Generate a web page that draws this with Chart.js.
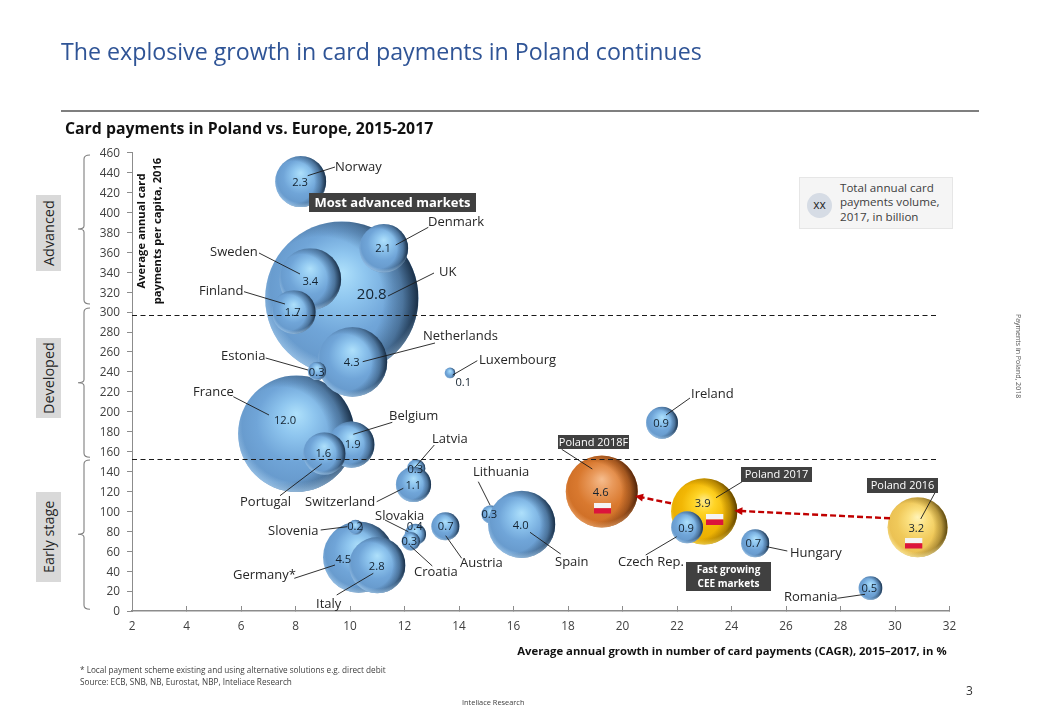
<!DOCTYPE html>
<html><head><meta charset="utf-8">
<script src="https://cdn.jsdelivr.net/npm/chart.js@4"></script>
<style>
html,body{margin:0;padding:0;background:#fff;width:1040px;height:720px;overflow:hidden;font-family:"Open Sans",sans-serif;color:#262626}
#wrap{position:relative;width:1040px;height:720px}
canvas{position:absolute;left:0;top:0}
.t{position:absolute;white-space:nowrap}
#title{left:61px;top:35px;font-size:23.2px;color:#2f5496;line-height:32px}
#rule{position:absolute;left:61px;top:110px;width:918px;height:2px;background:#7f7f7f}
#sub{left:65px;top:118px;font-size:15.8px;font-weight:700;color:#111;line-height:20px}
.side{position:absolute;background:#d9d9d9;color:#262626;font-size:14.4px;writing-mode:vertical-rl;transform:rotate(180deg);text-align:center;left:36px;width:25px;line-height:25px}
#foot{left:80px;top:664px;font-size:8.2px;line-height:11.5px;color:#404040}
#page{left:966px;top:682px;font-size:12px;color:#333}
#brand{left:462px;top:697px;font-size:7.4px;color:#404040}
#side2{left:1014px;top:314px;font-size:7px;color:#555;writing-mode:vertical-rl}
#legend{position:absolute;left:799px;top:177px;width:152px;height:50px;background:#f5f5f5;border:1px solid #e6e6e6}
#legdot{position:absolute;left:7px;top:15px;width:25px;height:25px;border-radius:50%;background:#d6dce5;text-align:center;line-height:24px;font-size:12px;color:#262626}
#legtxt{position:absolute;left:40px;top:3px;font-size:11.6px;line-height:14.4px;color:#404040;white-space:nowrap}
</style></head>
<body><div id="wrap">
<canvas id="c" width="1040" height="720"></canvas>
<div class="t" id="title">The explosive growth in card payments in Poland continues</div>
<div id="rule"></div>
<div class="t" id="sub">Card payments in Poland vs. Europe, 2015-2017</div>
<div class="side" style="top:195px;height:76px">Advanced</div>
<div class="side" style="top:338px;height:80px">Developed</div>
<div class="side" style="top:492px;height:90px">Early stage</div>
<div id="legend"><div id="legdot">xx</div><div id="legtxt">Total annual card<br>payments volume,<br>2017, in billion</div></div>
<div class="t" id="foot">* Local payment scheme existing and using alternative solutions e.g. direct debit<br>Source: ECB, SNB, NB, Eurostat, NBP, Inteliace Research</div>
<div class="t" id="page">3</div>
<div class="t" id="brand">Inteliace Research</div>
<div class="t" id="side2">Payments in Poland, 2018</div>
</div>
<script>
// ---- data ----
const countries = ["France","UK","Norway","Sweden","Denmark","Netherlands","Finland","Estonia","Luxembourg","Ireland","Belgium","Portugal","Latvia","Switzerland","Germany*","Italy","Slovenia","Slovakia","Croatia","Austria","Lithuania","Spain","Poland 2018F","Poland 2017","Czech Rep.","Hungary","Romania","Poland 2016"];
const cagr      = [8.03,9.7,8.19,8.54,11.24,10.09,7.94,8.79,13.67,21.45,10.05,9.06,12.43,12.33,10.32,11.0,10.2,12.4,12.23,13.5,15.16,16.3,19.24,23.0,22.37,24.87,29.1,30.83];
const perCapita = [178,314,431,333,364,250,300,241,239,189,167,158,143,127,54,46,84,77,70,85,97,87,120,100,84,68,23,84];
const volume    = [12.0,20.8,2.3,3.4,2.1,4.3,1.7,0.3,0.1,0.9,1.9,1.6,0.3,1.1,4.5,2.8,0.2,0.4,0.3,0.7,0.3,4.0,4.6,3.9,0.9,0.7,0.5,3.2];
const xTicksStep = 2, yTicksStep = 20;
const tierLimits = [297.5, 152.5];

// ---- styling / annotation layout (pixels on the page) ----
const R_K = 16.8;
// highlight, light, body, lower body, dark rim rgb, pale rim rgb
const SPHERES = {
  blue:  ["#aee0fb","#8fc6ef","#70a5d8","#6496c8","20,40,62","170,208,240"],
  orange:["#f6bd8e","#e99a5c","#d9792f","#cc6c24","70,30,8","240,170,110"],
  gold:  ["#ffeb8a","#ffd426","#f2b705","#e6aa00","80,55,0","255,225,90"],
  pale:  ["#fff3b8","#fbe07f","#f0c95a","#e8bd50","80,62,10","255,240,170"]
};
const sphereOf = {"Poland 2018F":"orange","Poland 2017":"gold","Poland 2016":"pale"};
const LAY = {
 "Norway":[335,167,[307.7,175.7,335,167],[300,183]],
 "Denmark":[428,222,[395.7,245,428.3,227.3],[383,249]],
 "Sweden":[210,252,[259,253,300,274],[310.3,282]],
 "UK":[439,272,[388,296,434,273],[371.7,295]],
 "Finland":[199,291,[244,291.7,285,304],[292.7,313]],
 "Netherlands":[423,336,[362.7,361.7,435,343],[351.7,363]],
 "Estonia":[221,356,[265.7,358,308,370],[316.7,372.7]],
 "Luxembourg":[479,360,[452.7,375,477.3,360.7],[463.3,383]],
 "France":[193,392,[233.3,396.7,269,415],[285,421]],
 "Belgium":[389,416,[392.3,422.3,353.3,434.3],[352.7,445]],
 "Latvia":[432,439,[434.3,445,415,467.3],[415.3,470]],
 "Lithuania":[473,472,[478.3,481.7,490,505],[489.3,515]],
 "Switzerland":[305,502,[376.7,501.7,403.3,488.3],[413.3,486]],
 "Portugal":[240,502,[280,495.7,321.7,464],[323.3,454]],
 "Slovakia":[375,516,[385,520,408.3,531.7],[414.7,527]],
 "Slovenia":[268,531,[320.7,530,347.3,526.7],[355,527]],
 "Austria":[460,563,[461.7,558.3,445.7,535.7],[445.7,527]],
 "Croatia":[414,572,[432.3,566,410,545.7],[409.3,541.7]],
 "Germany*":[233,575,[294.3,578.3,335,565],[343.3,560]],
 "Italy":[316,604,[336.7,595,373.3,573.3],[376.7,567.3]],
 "Spain":[555,562,[560.7,554,530,532.3],[520.7,525.7]],
 "Czech Rep.":[618,562,[645.7,555,676.7,536.7],[686,529]],
 "Hungary":[790,553,[787.3,551,766.7,546.7],[753.3,544]],
 "Romania":[784,597,[837.3,598.3,865,594.3],[869.3,589]],
 "Ireland":[691,394,[666,415,690,398],[661,424]],
 "Poland 2018F":[null,0,[561.7,449.3,592.3,469],[600.7,493.3]],
 "Poland 2017":[null,0,[745,480,716,497.7],[702.7,504]],
 "Poland 2016":[null,0,[935,492.7,920.7,519],[916.3,529]]
};
const BOXES = [
 {lines:["Poland 2018F"],x:558,y:435,w:71,h:14,font:"11px 'Open Sans'"},
 {lines:["Poland 2017"],x:741,y:467,w:71,h:15,font:"11px 'Open Sans'"},
 {lines:["Poland 2016"],x:867,y:478,w:71,h:15,font:"11px 'Open Sans'"},
 {lines:["Most advanced markets"],x:309,y:193,w:167,h:19,font:"bold 13px 'Open Sans'"},
 {lines:["Fast growing","CEE markets"],x:686,y:562,w:85,h:29,font:"bold 10px 'Open Sans'"}
];
const FLAGS = [[594,503,17,10.5],[706,514,17.3,11],[905,538,17.3,10.5]];
const ARROWS = [[890,518.3,734.3,510.7],[671,503.3,635,496]];
const BRACES = [[155,229,304],[308,382.7,457.3],[460,534.3,609.3]];
const GREY = "#7f7f7f";
const INK = "#262626";

const sphereFill = ctx => {
  if (ctx.dataIndex === undefined || !ctx.chart.chartArea) return "#70a5d8";
  const {x, y} = ctx.chart.scales;
  const i = ctx.dataIndex;
  const cx = x.getPixelForValue(cagr[i]), cy = y.getPixelForValue(perCapita[i]);
  const r = R_K * Math.sqrt(volume[i]);
  const s = SPHERES[sphereOf[countries[i]] || "blue"];
  const g = ctx.chart.ctx.createRadialGradient(cx, cy - 0.34*r, 0, cx, cy - 0.1*r, 1.1*r);
  g.addColorStop(0, s[0]); g.addColorStop(0.28, s[1]); g.addColorStop(0.62, s[2]); g.addColorStop(1, s[3]);
  return g;
};

// draws each bubble through the element itself, then adds the glossy shading inside its circle
const gloss = {
  id:"gloss",
  beforeDatasetDraw(chart,args){
    const c = chart.ctx;
    c.save();
    args.meta.data.forEach((el,i)=>{
      el.draw(c);
      const r = el.options.radius, cx = el.x, cy = el.y;
      const s = SPHERES[sphereOf[countries[i]] || "blue"];
      c.save();
      c.beginPath(); c.arc(cx,cy,r,0,Math.PI*2); c.clip();
      let g = c.createRadialGradient(cx-0.28*r,cy+0.02*r,0,cx-0.28*r,cy+0.02*r,1.28*r);
      g.addColorStop(0,`rgba(${s[4]},0)`); g.addColorStop(0.64,`rgba(${s[4]},0)`);
      g.addColorStop(0.84,`rgba(${s[4]},0.36)`); g.addColorStop(1,`rgba(${s[4]},0.95)`);
      c.fillStyle=g; c.fillRect(cx-r,cy-r,2*r,2*r);
      g = c.createRadialGradient(cx+0.04*r,cy-0.14*r,0,cx+0.04*r,cy-0.14*r,1.13*r);
      g.addColorStop(0,`rgba(${s[5]},0)`); g.addColorStop(0.86,`rgba(${s[5]},0)`); g.addColorStop(1,`rgba(${s[5]},0.65)`);
      c.fillStyle=g; c.fillRect(cx-r,cy-r,2*r,2*r);
      c.restore();
    });
    c.restore();
    return false;
  }
};

const overlay = {
  id:"overlay",
  afterDatasetsDraw(chart){
    const c = chart.ctx; c.save();
    const {x:sx,y:sy} = chart.scales;
    c.strokeStyle="#1a1a1a"; c.lineWidth=1.2; c.setLineDash([5,3.5]);
    tierLimits.forEach(v=>{const p=Math.round(sy.getPixelForValue(v))+.5;c.beginPath();c.moveTo(sx.left,p);c.lineTo(938,p);c.stroke();});
    c.setLineDash([]);
    c.strokeStyle="#1a1a1a"; c.lineWidth=0.9;
    countries.forEach(n=>{const l=LAY[n][2];c.beginPath();c.moveTo(l[0],l[1]);c.lineTo(l[2],l[3]);c.stroke();});
    c.textBaseline="middle"; c.fillStyle=INK; c.textAlign="left"; c.font="13px 'Open Sans'";
    countries.forEach(n=>{const a=LAY[n]; if(a[0]!==null) c.fillText(n,a[0],a[1]);});
    c.textAlign="center";
    countries.forEach((n,i)=>{const v=LAY[n][3];c.font=(n==="UK"?"15px":"11.2px")+" 'Open Sans'";c.fillStyle="#14222f";c.fillText(volume[i].toFixed(1),v[0],v[1]);});
    BOXES.forEach(b=>{c.fillStyle="#404040";c.fillRect(b.x,b.y,b.w,b.h);c.fillStyle="#fff";c.font=b.font;
      const lh=b.h/b.lines.length;b.lines.forEach((t,k)=>c.fillText(t,b.x+b.w/2,b.y+lh*(k+.5)+.5));});
    FLAGS.forEach(f=>{c.fillStyle="#f4f4f4";c.fillRect(f[0],f[1],f[2],f[3]/2);c.fillStyle="#dc143c";c.fillRect(f[0],f[1]+f[3]/2,f[2],f[3]/2);});
    c.strokeStyle="#c00000";c.fillStyle="#c00000";c.lineWidth=2.4;
    ARROWS.forEach(a=>{const ang=Math.atan2(a[3]-a[1],a[2]-a[0]);
      c.setLineDash([6,3]);c.beginPath();c.moveTo(a[0],a[1]);c.lineTo(a[2]-7*Math.cos(ang),a[3]-7*Math.sin(ang));c.stroke();c.setLineDash([]);
      c.beginPath();c.moveTo(a[2],a[3]);c.lineTo(a[2]-9*Math.cos(ang-.45),a[3]-9*Math.sin(ang-.45));c.lineTo(a[2]-9*Math.cos(ang+.45),a[3]-9*Math.sin(ang+.45));c.closePath();c.fill();});
    c.fillStyle="#111";c.font="bold 11.2px 'Open Sans'";c.textAlign="center";
    c.save();c.translate(142,231);c.rotate(-Math.PI/2);c.fillText("Average annual card",0,0);c.fillText("payments per capita, 2016",0,16);c.restore();
    c.strokeStyle=GREY;c.lineWidth=1.1;
    BRACES.forEach(b=>{const[t,m,e]=b;c.beginPath();c.moveTo(90,t);c.quadraticCurveTo(84,t,84,t+4);c.lineTo(84,m-3);c.quadraticCurveTo(84,m,78,m);c.quadraticCurveTo(84,m,84,m+3);c.lineTo(84,e-4);c.quadraticCurveTo(84,e,90,e);c.stroke();});
    c.restore();
  }
};

new Chart(document.getElementById("c"),{
  type:"bubble",
  data:{labels:countries,datasets:[{
    label:"Card payments",
    data:countries.map((n,i)=>({x:cagr[i],y:perCapita[i],v:volume[i]})),
    backgroundColor:sphereFill,
    hoverBackgroundColor:sphereFill,
    borderWidth:0,
    radius:ctx=>ctx.raw?R_K*Math.sqrt(ctx.raw.v):0,
    clip:false
  }]},
  options:{
    responsive:false,animation:false,
    layout:{padding:{left:0,top:152.7,right:90.5,bottom:61}},
    plugins:{legend:{display:false},title:{display:false},tooltip:{enabled:false}},
    events:[],
    scales:{
      x:{type:"linear",min:2,max:32,
        ticks:{stepSize:xTicksStep,color:"#404040",font:{family:"Open Sans",size:11.8},padding:14,maxRotation:0},
        grid:{drawOnChartArea:false,tickLength:-5,tickColor:"#8c8c8c",tickWidth:1},
        border:{color:"#8c8c8c",width:1.5},
        title:{display:true,text:"Average annual growth in number of card payments (CAGR), 2015–2017, in % ",align:"end",color:"#111",font:{family:"Open Sans",size:11.3,weight:"bold"},padding:{top:4,bottom:0}},
        afterFit(s){s.height=48;}
      },
      y:{type:"linear",min:0,max:460,
        ticks:{stepSize:yTicksStep,color:"#404040",font:{family:"Open Sans",size:11.8},padding:7,autoSkip:false,labelOffset:1},
        grid:{drawOnChartArea:false,tickLength:5,tickColor:"#8c8c8c",tickWidth:1},
        border:{color:"#8c8c8c",width:1},
        afterFit(s){s.width=132;}
      }
    }
  },
  plugins:[gloss,overlay]
});
</script></body></html>
